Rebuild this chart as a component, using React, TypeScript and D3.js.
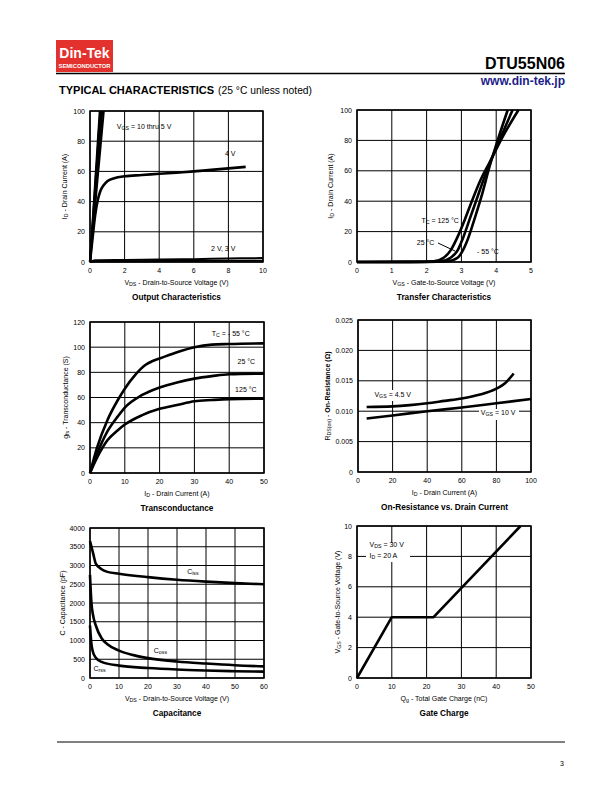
import React from "react";
import * as d3 from "d3";

// ---------- DATA ----------
// Output characteristics (VDS, ID)
const outV10 = [[0, 0], [0.56, 100]];
const outV8 = [[0, 0], [0.6, 100]];
const outV7 = [[0, 0], [0.65, 100]];
const outV6 = [[0, 0], [0.71, 100]];
const outV5 = [[0, 0], [0.8, 100]];
const outV4 = [[0, 0], [0.15, 16], [0.3, 31], [0.45, 41], [0.6, 47], [0.8, 51], [1, 53.5], [1.4, 55.5], [2, 56.8], [3, 57.6], [4, 58.4], [5, 59.2], [6, 60], [7, 61], [8, 62], [9, 63]];
const outV3 = [[0, 0], [0.3, 1.2], [2, 1.4], [4, 1.6], [6, 1.9], [8, 2.3], [10, 2.6]];
const outV2 = [[0, 0], [0.3, 0.5], [4, 0.6], [10, 0.8]];

// Transfer characteristics (VGS, ID)
const tr125 = [[0, 0], [1.5, 0.1], [2.2, 0.5], [2.5, 3], [2.7, 8], [2.9, 17], [3.1, 28], [3.3, 40], [3.55, 54], [3.8, 65], [4.2, 83], [4.64, 100]];
const tr25 = [[0, 0], [1.8, 0.1], [2.4, 0.5], [2.7, 3], [2.9, 8], [3.05, 16], [3.25, 29], [3.45, 42], [3.65, 55], [3.8, 64], [4.15, 83], [4.47, 100]];
const trM55 = [[0, 0], [2.0, 0.1], [2.6, 0.5], [2.9, 3], [3.05, 8], [3.2, 16], [3.4, 30], [3.6, 45], [3.8, 62], [4.0, 77], [4.33, 100]];

// Transconductance (ID, gfs)
const gfsM55 = [[0, 0], [2, 20], [5, 42], [8, 58], [10, 67], [13, 78], [16, 86], [18, 89], [20, 91], [25, 96], [30, 100], [35, 102], [40, 102.5], [50, 103]];
const gfs25 = [[0, 0], [2, 15], [5, 33], [8, 45], [10, 52], [15, 62], [20, 68], [25, 72], [30, 75], [35, 77], [40, 78.5], [50, 79]];
const gfs125 = [[0, 0], [2, 12], [5, 26], [8, 34], [10, 38.5], [15, 46], [20, 51], [25, 54], [30, 57], [35, 58], [40, 58.7], [50, 59]];

// On-resistance (ID, RDS(on))
const ron45 = [[5, 0.0107], [20, 0.0108], [30, 0.011], [40, 0.0113], [50, 0.0117], [60, 0.0121], [70, 0.0127], [80, 0.0137], [85, 0.0146], [90, 0.0162]];
const ron10 = [[5, 0.0088], [20, 0.0093], [40, 0.01], [60, 0.0106], [80, 0.0113], [100, 0.012]];

// Capacitance (VDS, pF)
const capCiss = [[0, 3650], [1, 3350], [2, 3050], [4, 2900], [6, 2830], [10, 2780], [20, 2690], [30, 2620], [40, 2570], [50, 2530], [60, 2500]];
const capCoss = [[0, 2750], [0.5, 2000], [1, 1700], [2, 1400], [4, 1060], [6, 900], [10, 730], [15, 610], [20, 530], [30, 440], [40, 385], [50, 340], [60, 310]];
const capCrss = [[0, 1400], [0.5, 900], [1, 700], [2, 540], [4, 430], [10, 330], [20, 265], [30, 225], [40, 200], [50, 182], [60, 170]];

// Gate charge (Qg, VGS)
const gateCharge = [[0, 0], [10, 4], [22, 4], [47, 10]];

const outXTicks = [0, 2, 4, 6, 8, 10];
const outYTicks = [0, 20, 40, 60, 80, 100];
const trXTicks = [0, 1, 2, 3, 4, 5];
const trYTicks = [0, 20, 40, 60, 80, 100];
const gfsXTicks = [0, 10, 20, 30, 40, 50];
const gfsYTicks = [0, 20, 40, 60, 80, 100, 120];
const ronXTicks = [0, 20, 40, 60, 80, 100];
const ronYTicks = [0, 0.005, 0.01, 0.015, 0.02, 0.025];
const capXTicks = [0, 10, 20, 30, 40, 50, 60];
const capYTicks = [0, 500, 1000, 1500, 2000, 2500, 3000, 3500, 4000];
const gcXTicks = [0, 10, 20, 30, 40, 50];
const gcYTicks = [0, 2, 4, 6, 8, 10];

// ---------- RENDER ----------
const FONT = "'Liberation Sans', Arial, sans-serif";

type Part = [string, boolean?, boolean?];

function Rich({ parts, x, y, anchor = "start", size = 7, rotate = false }: any) {
  return (
    <text
      x={x}
      y={y}
      textAnchor={anchor}
      fontSize={size}
      fontFamily={FONT}
      fill="#000"
      transform={rotate ? `rotate(-90 ${x} ${y})` : undefined}
    >
      {parts.map((p: Part, i: number) =>
        p[1] ? (
          <tspan key={i} fontSize={size * 0.75} baselineShift="-25%">{p[0]}</tspan>
        ) : (
          <tspan key={i} fontWeight={p[2] ? "bold" : undefined}>{p[0]}</tspan>
        )
      )}
    </text>
  );
}

function Panel(props: any) {
  const { box, xd, yd, xt, yt, yfmt, series, labels, xLabel, yLabel, yLabelOff, title, curve, extras, boxes } = props;
  const [L, T, R, B] = box;
  const x = d3.scaleLinear().domain(xd).range([L, R]);
  const y = d3.scaleLinear().domain(yd).range([B, T]);
  const fmt = yfmt || ((d: number) => String(d));
  return (
    <g>
      {xt.map((t: number) => (
        <line key={"gx" + t} x1={x(t)} x2={x(t)} y1={T} y2={B} stroke="#000" strokeWidth={1} />
      ))}
      {yt.map((t: number) => (
        <line key={"gy" + t} x1={L} x2={R} y1={y(t)} y2={y(t)} stroke="#000" strokeWidth={1} />
      ))}
      {(boxes || []).map((b: any, i: number) => (
        <rect key={"bx" + i} x={b[0]} y={b[1]} width={b[2]} height={b[3]} fill="#fff" />
      ))}
      <rect x={L} y={T} width={R - L} height={B - T} fill="none" stroke="#000" strokeWidth={1.5} />
      {series.map((s: any, i: number) => {
        const line = d3
          .line<number[]>()
          .x((d) => x(d[0]))
          .y((d) => y(d[1]))
          .curve(s.curve || curve || d3.curveMonotoneX);
        return (
          <path key={"s" + i} d={line(s.data) || ""} fill="none" stroke="#000" strokeWidth={s.w || 2.6} strokeLinejoin="round" />
        );
      })}
      {xt.map((t: number) => (
        <text key={"tx" + t} x={x(t)} y={B + 11} textAnchor="middle" fontSize={7} fontFamily={FONT}>
          {t}
        </text>
      ))}
      {yt.map((t: number) => (
        <text key={"ty" + t} x={L - 5} y={y(t) + 2.5} textAnchor="end" fontSize={7} fontFamily={FONT}>
          {fmt(t)}
        </text>
      ))}
      <Rich parts={xLabel} x={(L + R) / 2} y={B + 23} anchor="middle" />
      <Rich parts={yLabel} x={L - yLabelOff} y={(T + B) / 2} anchor="middle" rotate />
      <text
        transform={`translate(${(L + R) / 2},${B + 38}) scale(0.86,1)`}
        textAnchor="middle"
        fontSize={9.6}
        fontWeight="bold"
        fontFamily={FONT}
      >
        {title}
      </text>
      {(labels || []).map((lb: any, i: number) => (
        <Rich key={"lb" + i} parts={lb.parts} x={x(lb.x)} y={y(lb.y)} anchor={lb.anchor || "start"} />
      ))}
      {extras}
    </g>
  );
}

export default function App() {
  const lin = d3.curveLinear;
  return (
    <svg width={612} height={792} style={{ position: "absolute", left: 0, top: 0 }}>
      <rect width={612} height={792} fill="#fff" />
      {/* Header */}
      <rect x={56} y={40} width={57} height={32} fill="#e3312d" />
      <text x={84.5} y={58} textAnchor="middle" fontSize={14} fontWeight="bold" fill="#fff" fontFamily={FONT}>
        Din-Tek
      </text>
      <text x={84.5} y={68} textAnchor="middle" fontSize={6} fontWeight="bold" fill="#fff" fontFamily={FONT} textLength={52} lengthAdjust="spacingAndGlyphs">
        SEMICONDUCTOR
      </text>
      <line x1={56} x2={565} y1={73.5} y2={73.5} stroke="#000" strokeWidth={1.5} />
      <text x={565} y={69} textAnchor="end" fontSize={16} fontWeight="bold" fontFamily={FONT}>
        DTU55N06
      </text>
      <text x={565} y={85} textAnchor="end" fontSize={12} fontWeight="bold" fill="#1c1c8a" fontFamily={FONT}>
        www.din-tek.jp
      </text>
      <text x={59} y={94} fontSize={11} fontFamily={FONT}>
        <tspan fontWeight="bold">TYPICAL CHARACTERISTICS</tspan>
        <tspan dx={4} fontSize={10.3}>(25 °C unless noted)</tspan>
      </text>

      <Panel
        box={[90, 111, 263, 262]}
        xd={[0, 10]}
        yd={[0, 100]}
        xt={outXTicks}
        yt={outYTicks}
        series={[
          { data: outV10, curve: lin, w: 2 },
          { data: outV8, curve: lin, w: 2 },
          { data: outV7, curve: lin, w: 2 },
          { data: outV6, curve: lin, w: 2 },
          { data: outV5, curve: lin, w: 2 },
          { data: outV4 },
          { data: outV3, w: 2 },
          { data: outV2, w: 2 },
        ]}
        labels={[
          { parts: [["V"], ["GS", true], [" = 10 thru 5 V"]], x: 1.55, y: 88 },
          { parts: [["4 V"]], x: 7.8, y: 70 },
          { parts: [["2 V, 3 V"]], x: 7.0, y: 7 },
        ]}
        xLabel={[["V"], ["DS", true], [" - Drain-to-Source Voltage (V)"]]}
        yLabel={[["I"], ["D", true], [" - Drain Current (A)"]]}
        yLabelOff={23}
        title="Output Characteristics"
      />

      <Panel
        box={[357, 110, 531, 262]}
        xd={[0, 5]}
        yd={[0, 100]}
        xt={trXTicks}
        yt={trYTicks}
        series={[{ data: tr125 }, { data: tr25 }, { data: trM55 }]}
        labels={[
          { parts: [["T"], ["C", true], [" = 125 °C"]], x: 1.85, y: 25.5 },
          { parts: [["25 °C"]], x: 1.72, y: 11.5 },
          { parts: [["- 55 °C"]], x: 3.45, y: 5.5 },
        ]}
        extras={
          <line x1={438} y1={243} x2={455} y2={251} stroke="#000" strokeWidth={1} />
        }
        xLabel={[["V"], ["GS", true], [" - Gate-to-Source Voltage (V)"]]}
        yLabel={[["I"], ["D", true], [" - Drain Current (A)"]]}
        yLabelOff={24}
        title="Transfer Characteristics"
      />

      <Panel
        box={[90, 322, 264, 473]}
        xd={[0, 50]}
        yd={[0, 120]}
        xt={gfsXTicks}
        yt={gfsYTicks}
        series={[{ data: gfsM55 }, { data: gfs25 }, { data: gfs125 }]}
        labels={[
          { parts: [["T"], ["C", true], [" = - 55 °C"]], x: 35, y: 109 },
          { parts: [["25 °C"]], x: 42.4, y: 86.5 },
          { parts: [["125 °C"]], x: 41.7, y: 64.5 },
        ]}
        xLabel={[["I"], ["D", true], [" - Drain Current (A)"]]}
        yLabel={[["g"], ["fs", true], [" - Transconductance (S)"]]}
        yLabelOff={22}
        title="Transconductance"
      />

      <Panel
        box={[358, 320, 531, 472]}
        xd={[0, 100]}
        yd={[0, 0.025]}
        xt={ronXTicks}
        yt={ronYTicks}
        yfmt={(d: number) => (d === 0 ? "0" : d.toFixed(3))}
        series={[{ data: ron45 }, { data: ron10 }]}
        boxes={[[479, 409, 40, 11], [372, 390, 43, 11]]}
        labels={[
          { parts: [["V"], ["GS", true], [" = 4.5 V"]], x: 9.5, y: 0.0124 },
          { parts: [["V"], ["GS", true], [" = 10 V"]], x: 71, y: 0.0094 },
        ]}
        xLabel={[["I"], ["D", true], [" - Drain Current (A)"]]}
        yLabel={[["R"], ["DS(on)", true], [" - "], ["On-Resistance (Ω)", false, true]]}
        yLabelOff={28}
        title="On-Resistance vs. Drain Current"
      />

      <Panel
        box={[90, 528, 264, 678]}
        xd={[0, 60]}
        yd={[0, 4000]}
        xt={capXTicks}
        yt={capYTicks}
        series={[{ data: capCiss }, { data: capCoss }, { data: capCrss }]}
        labels={[
          { parts: [["C"], ["iss", true]], x: 33.5, y: 2780 },
          { parts: [["C"], ["oss", true]], x: 22, y: 670 },
          { parts: [["C"], ["rss", true]], x: 1.2, y: 185 },
        ]}
        xLabel={[["V"], ["DS", true], [" - Drain-to-Source Voltage (V)"]]}
        yLabel={[["C - Capacitance (pF)"]]}
        yLabelOff={25}
        title="Capacitance"
      />

      <Panel
        box={[357, 526, 531, 678]}
        xd={[0, 50]}
        yd={[0, 10]}
        xt={gcXTicks}
        yt={gcYTicks}
        series={[{ data: gateCharge, curve: lin }]}
        boxes={[[366, 543, 44, 19]]}
        labels={[
          { parts: [["V"], ["DS", true], [" = 30 V"]], x: 3.6, y: 8.6 },
          { parts: [["I"], ["D", true], [" = 20 A"]], x: 3.6, y: 7.9 },
        ]}
        xLabel={[["Q"], ["g", true], [" - Total Gate Charge (nC)"]]}
        yLabel={[["V"], ["GS", true], [" - Gate-to-Source Voltage (V)"]]}
        yLabelOff={17}
        title="Gate Charge"
      />

      {/* Footer */}
      <line x1={57} x2={565} y1={742} y2={742} stroke="#000" strokeWidth={1} />
      <text x={562} y={766} textAnchor="middle" fontSize={7} fontFamily={FONT}>
        3
      </text>
    </svg>
  );
}
